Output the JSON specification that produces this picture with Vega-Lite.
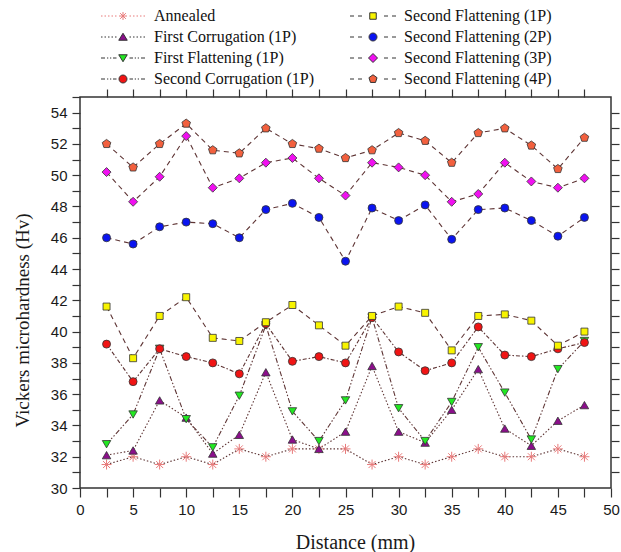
{
  "$schema": "https://vega.github.io/schema/vega-lite/v6.json",
  "width": 531,
  "height": 391,
  "autosize": {"type": "none"},
  "padding": {"left": 80, "top": 97, "right": 10, "bottom": 64},
  "background": "white",
  "config": {
    "view": {"stroke": "#333333", "strokeWidth": 1.5},
    "axis": {
      "domain": false, "grid": false, "tickColor": "#333333", "tickWidth": 1.2,
      "labelFont": "Liberation Sans", "labelFontSize": 15, "labelColor": "#1a1a1a",
      "titleFont": "Liberation Serif", "titleFontWeight": "normal", "titleColor": "#1a1a1a",
      "labelOverlap": false, "labelFlush": false
    }
  },
  "data": {"values": [
    {"series":"Annealed","d":2.5,"hv":31.5},{"series":"Annealed","d":5,"hv":32},{"series":"Annealed","d":7.5,"hv":31.5},{"series":"Annealed","d":10,"hv":32},{"series":"Annealed","d":12.5,"hv":31.5},{"series":"Annealed","d":15,"hv":32.5},{"series":"Annealed","d":17.5,"hv":32},{"series":"Annealed","d":20,"hv":32.5},{"series":"Annealed","d":22.5,"hv":32.5},{"series":"Annealed","d":25,"hv":32.5},{"series":"Annealed","d":27.5,"hv":31.5},{"series":"Annealed","d":30,"hv":32},{"series":"Annealed","d":32.5,"hv":31.5},{"series":"Annealed","d":35,"hv":32},{"series":"Annealed","d":37.5,"hv":32.5},{"series":"Annealed","d":40,"hv":32},{"series":"Annealed","d":42.5,"hv":32},{"series":"Annealed","d":45,"hv":32.5},{"series":"Annealed","d":47.5,"hv":32},
    {"series":"First Corrugation (1P)","d":2.5,"hv":32.1},{"series":"First Corrugation (1P)","d":5,"hv":32.4},{"series":"First Corrugation (1P)","d":7.5,"hv":35.6},{"series":"First Corrugation (1P)","d":10,"hv":34.5},{"series":"First Corrugation (1P)","d":12.5,"hv":32.2},{"series":"First Corrugation (1P)","d":15,"hv":33.4},{"series":"First Corrugation (1P)","d":17.5,"hv":37.4},{"series":"First Corrugation (1P)","d":20,"hv":33.1},{"series":"First Corrugation (1P)","d":22.5,"hv":32.5},{"series":"First Corrugation (1P)","d":25,"hv":33.6},{"series":"First Corrugation (1P)","d":27.5,"hv":37.8},{"series":"First Corrugation (1P)","d":30,"hv":33.6},{"series":"First Corrugation (1P)","d":32.5,"hv":32.9},{"series":"First Corrugation (1P)","d":35,"hv":35.0},{"series":"First Corrugation (1P)","d":37.5,"hv":37.6},{"series":"First Corrugation (1P)","d":40,"hv":33.8},{"series":"First Corrugation (1P)","d":42.5,"hv":32.7},{"series":"First Corrugation (1P)","d":45,"hv":34.3},{"series":"First Corrugation (1P)","d":47.5,"hv":35.3},
    {"series":"First Flattening (1P)","d":2.5,"hv":32.8},{"series":"First Flattening (1P)","d":5,"hv":34.7},{"series":"First Flattening (1P)","d":7.5,"hv":38.9},{"series":"First Flattening (1P)","d":10,"hv":34.4},{"series":"First Flattening (1P)","d":12.5,"hv":32.6},{"series":"First Flattening (1P)","d":15,"hv":35.9},{"series":"First Flattening (1P)","d":17.5,"hv":40.4},{"series":"First Flattening (1P)","d":20,"hv":34.9},{"series":"First Flattening (1P)","d":22.5,"hv":33.0},{"series":"First Flattening (1P)","d":25,"hv":35.6},{"series":"First Flattening (1P)","d":27.5,"hv":40.9},{"series":"First Flattening (1P)","d":30,"hv":35.1},{"series":"First Flattening (1P)","d":32.5,"hv":33.0},{"series":"First Flattening (1P)","d":35,"hv":35.5},{"series":"First Flattening (1P)","d":37.5,"hv":39.0},{"series":"First Flattening (1P)","d":40,"hv":36.1},{"series":"First Flattening (1P)","d":42.5,"hv":33.1},{"series":"First Flattening (1P)","d":45,"hv":37.6},{"series":"First Flattening (1P)","d":47.5,"hv":39.4},
    {"series":"Second Corrugation (1P)","d":2.5,"hv":39.2},{"series":"Second Corrugation (1P)","d":5,"hv":36.8},{"series":"Second Corrugation (1P)","d":7.5,"hv":38.9},{"series":"Second Corrugation (1P)","d":10,"hv":38.4},{"series":"Second Corrugation (1P)","d":12.5,"hv":38.0},{"series":"Second Corrugation (1P)","d":15,"hv":37.3},{"series":"Second Corrugation (1P)","d":17.5,"hv":40.5},{"series":"Second Corrugation (1P)","d":20,"hv":38.1},{"series":"Second Corrugation (1P)","d":22.5,"hv":38.4},{"series":"Second Corrugation (1P)","d":25,"hv":38.0},{"series":"Second Corrugation (1P)","d":27.5,"hv":40.9},{"series":"Second Corrugation (1P)","d":30,"hv":38.7},{"series":"Second Corrugation (1P)","d":32.5,"hv":37.5},{"series":"Second Corrugation (1P)","d":35,"hv":38.0},{"series":"Second Corrugation (1P)","d":37.5,"hv":40.3},{"series":"Second Corrugation (1P)","d":40,"hv":38.5},{"series":"Second Corrugation (1P)","d":42.5,"hv":38.4},{"series":"Second Corrugation (1P)","d":45,"hv":38.9},{"series":"Second Corrugation (1P)","d":47.5,"hv":39.3},
    {"series":"Second Flattening (1P)","d":2.5,"hv":41.6},{"series":"Second Flattening (1P)","d":5,"hv":38.3},{"series":"Second Flattening (1P)","d":7.5,"hv":41.0},{"series":"Second Flattening (1P)","d":10,"hv":42.2},{"series":"Second Flattening (1P)","d":12.5,"hv":39.6},{"series":"Second Flattening (1P)","d":15,"hv":39.4},{"series":"Second Flattening (1P)","d":17.5,"hv":40.6},{"series":"Second Flattening (1P)","d":20,"hv":41.7},{"series":"Second Flattening (1P)","d":22.5,"hv":40.4},{"series":"Second Flattening (1P)","d":25,"hv":39.1},{"series":"Second Flattening (1P)","d":27.5,"hv":41.0},{"series":"Second Flattening (1P)","d":30,"hv":41.6},{"series":"Second Flattening (1P)","d":32.5,"hv":41.2},{"series":"Second Flattening (1P)","d":35,"hv":38.8},{"series":"Second Flattening (1P)","d":37.5,"hv":41.0},{"series":"Second Flattening (1P)","d":40,"hv":41.1},{"series":"Second Flattening (1P)","d":42.5,"hv":40.7},{"series":"Second Flattening (1P)","d":45,"hv":39.1},{"series":"Second Flattening (1P)","d":47.5,"hv":40.0},
    {"series":"Second Flattening (2P)","d":2.5,"hv":46.0},{"series":"Second Flattening (2P)","d":5,"hv":45.6},{"series":"Second Flattening (2P)","d":7.5,"hv":46.7},{"series":"Second Flattening (2P)","d":10,"hv":47.0},{"series":"Second Flattening (2P)","d":12.5,"hv":46.9},{"series":"Second Flattening (2P)","d":15,"hv":46.0},{"series":"Second Flattening (2P)","d":17.5,"hv":47.8},{"series":"Second Flattening (2P)","d":20,"hv":48.2},{"series":"Second Flattening (2P)","d":22.5,"hv":47.3},{"series":"Second Flattening (2P)","d":25,"hv":44.5},{"series":"Second Flattening (2P)","d":27.5,"hv":47.9},{"series":"Second Flattening (2P)","d":30,"hv":47.1},{"series":"Second Flattening (2P)","d":32.5,"hv":48.1},{"series":"Second Flattening (2P)","d":35,"hv":45.9},{"series":"Second Flattening (2P)","d":37.5,"hv":47.8},{"series":"Second Flattening (2P)","d":40,"hv":47.9},{"series":"Second Flattening (2P)","d":42.5,"hv":47.1},{"series":"Second Flattening (2P)","d":45,"hv":46.1},{"series":"Second Flattening (2P)","d":47.5,"hv":47.3},
    {"series":"Second Flattening (3P)","d":2.5,"hv":50.2},{"series":"Second Flattening (3P)","d":5,"hv":48.3},{"series":"Second Flattening (3P)","d":7.5,"hv":49.9},{"series":"Second Flattening (3P)","d":10,"hv":52.5},{"series":"Second Flattening (3P)","d":12.5,"hv":49.2},{"series":"Second Flattening (3P)","d":15,"hv":49.8},{"series":"Second Flattening (3P)","d":17.5,"hv":50.8},{"series":"Second Flattening (3P)","d":20,"hv":51.1},{"series":"Second Flattening (3P)","d":22.5,"hv":49.8},{"series":"Second Flattening (3P)","d":25,"hv":48.7},{"series":"Second Flattening (3P)","d":27.5,"hv":50.8},{"series":"Second Flattening (3P)","d":30,"hv":50.5},{"series":"Second Flattening (3P)","d":32.5,"hv":50.0},{"series":"Second Flattening (3P)","d":35,"hv":48.3},{"series":"Second Flattening (3P)","d":37.5,"hv":48.8},{"series":"Second Flattening (3P)","d":40,"hv":50.8},{"series":"Second Flattening (3P)","d":42.5,"hv":49.6},{"series":"Second Flattening (3P)","d":45,"hv":49.2},{"series":"Second Flattening (3P)","d":47.5,"hv":49.8},
    {"series":"Second Flattening (4P)","d":2.5,"hv":52.0},{"series":"Second Flattening (4P)","d":5,"hv":50.5},{"series":"Second Flattening (4P)","d":7.5,"hv":52.0},{"series":"Second Flattening (4P)","d":10,"hv":53.3},{"series":"Second Flattening (4P)","d":12.5,"hv":51.6},{"series":"Second Flattening (4P)","d":15,"hv":51.4},{"series":"Second Flattening (4P)","d":17.5,"hv":53.0},{"series":"Second Flattening (4P)","d":20,"hv":52.0},{"series":"Second Flattening (4P)","d":22.5,"hv":51.7},{"series":"Second Flattening (4P)","d":25,"hv":51.1},{"series":"Second Flattening (4P)","d":27.5,"hv":51.6},{"series":"Second Flattening (4P)","d":30,"hv":52.7},{"series":"Second Flattening (4P)","d":32.5,"hv":52.2},{"series":"Second Flattening (4P)","d":35,"hv":50.8},{"series":"Second Flattening (4P)","d":37.5,"hv":52.7},{"series":"Second Flattening (4P)","d":40,"hv":53.0},{"series":"Second Flattening (4P)","d":42.5,"hv":51.9},{"series":"Second Flattening (4P)","d":45,"hv":50.4},{"series":"Second Flattening (4P)","d":47.5,"hv":52.4}
  ]},
  "resolve": {"axis": {"x": "independent", "y": "independent"}},
  "layer": [
    {
      "mark": {"type": "line", "stroke": "#5e3434", "strokeWidth": 1.1},
      "encoding": {
        "x": {"field": "d", "type": "quantitative", "scale": {"domain": [0, 50], "nice": false, "zero": false},
          "axis": {"orient": "bottom", "title": "Distance (mm)", "values": [0,2.5,5,7.5,10,12.5,15,17.5,20,22.5,25,27.5,30,32.5,35,37.5,40,42.5,45,47.5,50],
            "labelExpr": "datum.value % 5 === 0 ? datum.label : ''", "tickSize": 9, "labelPadding": 5,
            "titleFontSize": 20, "titleX": 275, "titleY": 60, "titleBaseline": "alphabetic",
            "encode": {"ticks": {"update": {"y2": {"signal": "datum.value % 5 === 0 ? 9 : 5"}}}}}},
        "y": {"field": "hv", "type": "quantitative", "scale": {"domain": [30, 55], "nice": false, "zero": false},
          "axis": {"orient": "left", "title": "Vickers microhardness (Hv)", "values": [30,31,32,33,34,35,36,37,38,39,40,41,42,43,44,45,46,47,48,49,50,51,52,53,54,55],
            "labelExpr": "datum.value % 2 === 0 && datum.value < 55 ? datum.label : ''", "tickSize": 8, "labelPadding": 5,
            "titleFontSize": 19, "titleAngle": -90, "titleX": -58, "titleY": 223, "titleAlign": "center", "titleBaseline": "middle",
            "encode": {"ticks": {"update": {"x2": {"signal": "datum.value % 2 === 0 ? -8 : -5"}}}}}},
        "strokeDash": {"field": "series", "type": "nominal", "legend": null,
          "scale": {"domain": ["Annealed","Second Flattening (1P)","First Corrugation (1P)","Second Flattening (2P)","First Flattening (1P)","Second Flattening (3P)","Second Corrugation (1P)","Second Flattening (4P)"],
            "range": [[1.5,2],[5,4],[1.5,2],[5,4],[5,2,1.5,2,1.5,2],[5,4],[4,2,1.5,2],[5,4]]}}
      }
    },
    {
      "transform": [{"filter": "datum.series === 'Annealed'"}],
      "mark": {"type": "point", "shape": "M-1,0L1,0M0,-1L0,1M-0.7,-0.7L0.7,0.7M-0.7,0.7L0.7,-0.7", "filled": false, "size": 100, "opacity": 1, "strokeWidth": 1},
      "encoding": {
        "x": {"field": "d", "type": "quantitative", "axis": null},
        "y": {"field": "hv", "type": "quantitative", "axis": null},
        "stroke": {"field": "series", "type": "nominal"}
      }
    },
    {
      "transform": [{"filter": "datum.series === 'First Corrugation (1P)'"}],
      "mark": {"type": "point", "shape": "triangle-up", "filled": true, "size": 72, "opacity": 1, "strokeWidth": 0.8},
      "encoding": {
        "x": {"field": "d", "type": "quantitative", "axis": null},
        "y": {"field": "hv", "type": "quantitative", "axis": null},
        "fill": {"field": "series", "type": "nominal"},
        "stroke": {"field": "series", "type": "nominal"}
      }
    },
    {
      "transform": [{"filter": "datum.series === 'First Flattening (1P)'"}],
      "mark": {"type": "point", "shape": "triangle-down", "filled": true, "size": 72, "opacity": 1, "strokeWidth": 0.8},
      "encoding": {
        "x": {"field": "d", "type": "quantitative", "axis": null},
        "y": {"field": "hv", "type": "quantitative", "axis": null},
        "fill": {"field": "series", "type": "nominal"},
        "stroke": {"field": "series", "type": "nominal"}
      }
    },
    {
      "transform": [{"filter": "datum.series === 'Second Corrugation (1P)'"}],
      "mark": {"type": "point", "shape": "circle", "filled": true, "size": 64, "opacity": 1, "strokeWidth": 0.8},
      "encoding": {
        "x": {"field": "d", "type": "quantitative", "axis": null},
        "y": {"field": "hv", "type": "quantitative", "axis": null},
        "fill": {"field": "series", "type": "nominal"},
        "stroke": {"field": "series", "type": "nominal"}
      }
    },
    {
      "transform": [{"filter": "datum.series === 'Second Flattening (1P)'"}],
      "mark": {"type": "point", "shape": "square", "filled": true, "size": 49, "opacity": 1, "strokeWidth": 0.8},
      "encoding": {
        "x": {"field": "d", "type": "quantitative", "axis": null},
        "y": {"field": "hv", "type": "quantitative", "axis": null},
        "fill": {"field": "series", "type": "nominal"},
        "stroke": {"field": "series", "type": "nominal"}
      }
    },
    {
      "transform": [{"filter": "datum.series === 'Second Flattening (2P)'"}],
      "mark": {"type": "point", "shape": "circle", "filled": true, "size": 64, "opacity": 1, "strokeWidth": 0.8},
      "encoding": {
        "x": {"field": "d", "type": "quantitative", "axis": null},
        "y": {"field": "hv", "type": "quantitative", "axis": null},
        "fill": {"field": "series", "type": "nominal"},
        "stroke": {"field": "series", "type": "nominal"}
      }
    },
    {
      "transform": [{"filter": "datum.series === 'Second Flattening (3P)'"}],
      "mark": {"type": "point", "shape": "diamond", "filled": true, "size": 81, "opacity": 1, "strokeWidth": 0.8},
      "encoding": {
        "x": {"field": "d", "type": "quantitative", "axis": null},
        "y": {"field": "hv", "type": "quantitative", "axis": null},
        "fill": {"field": "series", "type": "nominal"},
        "stroke": {"field": "series", "type": "nominal"}
      }
    },
    {
      "transform": [{"filter": "datum.series === 'Second Flattening (4P)'"}],
      "mark": {"type": "point", "shape": "M0,-1L0.951,-0.309L0.588,0.809L-0.588,0.809L-0.951,-0.309Z", "filled": true, "size": 81, "opacity": 1, "strokeWidth": 0.8},
      "encoding": {
        "x": {"field": "d", "type": "quantitative", "axis": null},
        "y": {"field": "hv", "type": "quantitative", "axis": null},
        "fill": {"field": "series", "type": "nominal"},
        "stroke": {"field": "series", "type": "nominal"}
      }
    },
    {
      "transform": [{"filter": "false"}],
      "mark": {"type": "point", "filled": true, "size": 100, "opacity": 1, "strokeWidth": 1},
      "encoding": {
        "x": {"field": "d", "type": "quantitative",
          "axis": {"orient": "top", "title": null, "labels": false, "tickSize": 8,
            "values": [2.5,5,7.5,10,12.5,15,17.5,20,22.5,25,27.5,30,32.5,35,37.5,40,42.5,45,47.5],
            "encode": {"ticks": {"update": {"y2": {"signal": "datum.value % 5 === 0 ? 8 : 5"}}}}}},
        "y": {"field": "hv", "type": "quantitative",
          "axis": {"orient": "right", "title": null, "labels": false, "tickSize": 8,
            "values": [31,32,33,34,35,36,37,38,39,40,41,42,43,44,45,46,47,48,49,50,51,52,53,54],
            "encode": {"ticks": {"update": {"x2": {"signal": "datum.value % 2 === 0 ? -8 : -5"}}}}}},
        "shape": {"field": "series", "type": "nominal",
          "scale": {"domain": ["Annealed","First Corrugation (1P)","First Flattening (1P)","Second Corrugation (1P)","Second Flattening (1P)","Second Flattening (2P)","Second Flattening (3P)","Second Flattening (4P)"],
            "range": [
              "M-4.4,0L-4.1,0M-3.7,0L-3.4,0M-3,0L-2.7,0M-2.3,0L-2,0M-1.6,0L-1.3,0M-0.8,0L0.8,0M0,-0.8L0,0.8M-0.57,-0.57L0.57,0.57M-0.57,0.57L0.57,-0.57M1.3,0L1.6,0M2,0L2.3,0M2.7,0L3,0M3.4,0L3.7,0M4.1,0L4.4,0",
              "M-4.4,0L-4.1,0M-3.7,0L-3.4,0M-3,0L-2.7,0M-2.3,0L-2,0M-1.6,0L-1.3,0M0,-0.75L0.85,0.65L-0.85,0.65ZM1.3,0L1.6,0M2,0L2.3,0M2.7,0L3,0M3.4,0L3.7,0M4.1,0L4.4,0",
              "M-4.4,0L-3.6,0M-3.2,0L-2.95,0M-2.6,0L-2.35,0M-2,0L-1.3,0M0,0.75L0.85,-0.65L-0.85,-0.65ZM1.3,0L2,0M2.35,0L2.6,0M2.95,0L3.2,0M3.6,0L4.4,0",
              "M-4.4,0L-3.6,0M-3.2,0L-2.95,0M-2.6,0L-2.35,0M-2,0L-1.3,0M0.8,0A0.8,0.8,0,1,1,-0.8,0A0.8,0.8,0,1,1,0.8,0ZM1.3,0L2,0M2.35,0L2.6,0M2.95,0L3.2,0M3.6,0L4.4,0",
              "M-4.6,0L-3.8,0M-3,0L-2.2,0M-0.65,-0.65L0.65,-0.65L0.65,0.65L-0.65,0.65ZM2.2,0L3,0M3.8,0L4.6,0",
              "M-4.6,0L-3.8,0M-3,0L-2.2,0M0.8,0A0.8,0.8,0,1,1,-0.8,0A0.8,0.8,0,1,1,0.8,0ZM2.2,0L3,0M3.8,0L4.6,0",
              "M-4.6,0L-3.8,0M-3,0L-2.2,0M0,-0.9L0.9,0L0,0.9L-0.9,0ZM2.2,0L3,0M3.8,0L4.6,0",
              "M-4.6,0L-3.8,0M-3,0L-2.2,0M0,-0.85L0.808,-0.263L0.5,0.688L-0.5,0.688L-0.808,-0.263ZM2.2,0L3,0M3.8,0L4.6,0"
            ]},
          "legend": {"orient": "none", "legendX": 35, "legendY": -89, "columns": 2, "columnPadding": 34, "rowPadding": 5,
            "title": null, "padding": 0, "symbolSize": 100, "symbolStrokeWidth": 1, "labelOffset": 23,
            "labelFont": "Liberation Serif", "labelFontSize": 16, "labelColor": "#111111", "labelLimit": 400}},
        "fill": {"field": "series", "type": "nominal",
          "scale": {"domain": ["Annealed","First Corrugation (1P)","First Flattening (1P)","Second Corrugation (1P)","Second Flattening (1P)","Second Flattening (2P)","Second Flattening (3P)","Second Flattening (4P)"],
            "range": ["#f08080","#8b0f8b","#22e822","#f01414","#f8f400","#0a14f0","#f010f0","#f2603e"]}},
        "stroke": {"field": "series", "type": "nominal",
          "scale": {"domain": ["Annealed","First Corrugation (1P)","First Flattening (1P)","Second Corrugation (1P)","Second Flattening (1P)","Second Flattening (2P)","Second Flattening (3P)","Second Flattening (4P)"],
            "range": ["#e87b7b","#333333","#333333","#333333","#333333","#333333","#333333","#333333"]}}
      }
    }
  ]
}
